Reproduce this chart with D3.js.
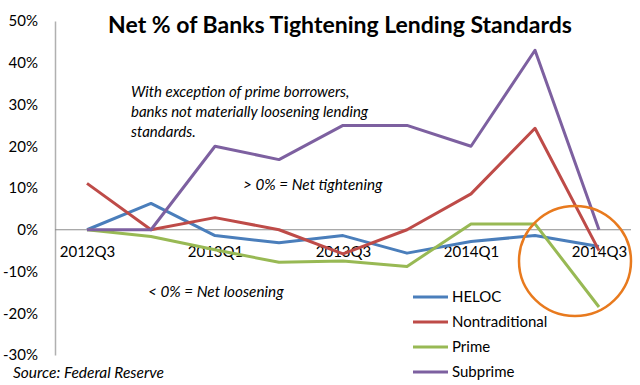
<!DOCTYPE html>
<html>
<head>
<meta charset="utf-8">
<script src="https://cdn.jsdelivr.net/npm/d3@7"></script>
<style>
  body { margin: 0; background: #fff; }
  text { font-family: "Lato", "Liberation Sans", sans-serif; fill: #000; }
</style>
</head>
<body>
<svg width="640" height="385"></svg>
<script>
// Data
const quarters = ["2012Q3", "2012Q4", "2013Q1", "2013Q2", "2013Q3", "2013Q4", "2014Q1", "2014Q2", "2014Q3"];
const heloc = [0, 6.3, -1.4, -3.1, -1.4, -5.6, -2.8, -1.4, -4.0];
const nontraditional = [11.1, 0, 2.9, 0, -5.8, 0, 8.6, 24.3, -5.0];
const prime = [0, -1.6, -4.8, -7.8, -7.5, -8.8, 1.4, 1.4, -18.5];
const subprime = [0, 0, 20, 16.8, 25, 25, 20, 43, 0];
const yTicks = [-30, -20, -10, 0, 10, 20, 30, 40, 50];
const xLabels = ["2012Q3", "2013Q1", "2013Q3", "2014Q1", "2014Q3"];

const series = [
    {name: "HELOC", values: heloc, color: "#4A7EBB"},
    {name: "Nontraditional", values: nontraditional, color: "#BE4B48"},
    {name: "Prime", values: prime, color: "#98B954"},
    {name: "Subprime", values: subprime, color: "#7D60A0"}
];

const svg = d3.select("svg");

const x = d3.scalePoint()
    .domain(quarters)
    .range([55, 631])
    .padding(0.5);

const y = d3.scaleLinear()
    .domain([-30, 50])
    .range([355, 21]);

// Y axis
const yAxis = svg.append("g")
    .attr("transform", "translate(55,0)")
    .call(d3.axisLeft(y).tickValues(yTicks).tickSize(0).tickPadding(17).tickFormat(d => d + "%"));
yAxis.select(".domain").attr("stroke", "#b0b0b0").attr("stroke-width", 1.5);
yAxis.selectAll("text").style("font-size", "15px").style("font-family", "Lato, sans-serif");

// X axis along zero
const xAxis = svg.append("g")
    .attr("transform", `translate(0,${y(0)})`)
    .call(d3.axisBottom(x).tickValues(xLabels).tickSize(0).tickPadding(17));
xAxis.select(".domain").attr("stroke", "#8c8c8c").attr("stroke-width", 1).attr("d", `M55,0H631`);
xAxis.selectAll("text").style("font-size", "15px").style("font-family", "Lato, sans-serif");

// Lines
const line = d3.line()
    .x((d, i) => x(quarters[i]))
    .y(d => y(d));

series.forEach(s => {
    svg.append("path")
        .datum(s.values)
        .attr("fill", "none")
        .attr("stroke", s.color)
        .attr("stroke-width", 3)
        .attr("stroke-linejoin", "round")
        .attr("d", line);
});

// Title
svg.append("text")
    .attr("x", 340)
    .attr("y", 33)
    .attr("text-anchor", "middle")
    .style("font-size", "23px")
    .style("font-weight", "bold")
    .text("Net % of Banks Tightening Lending Standards");

// Annotations
const note = ["With exception of prime borrowers,", "banks not materially loosening lending", "standards."];
note.forEach((t, i) => {
    svg.append("text")
        .attr("x", 131)
        .attr("y", 97 + i * 20)
        .style("font-size", "15px")
        .style("font-style", "italic")
        .text(t);
});

svg.append("text")
    .attr("x", 243)
    .attr("y", 190)
    .style("font-size", "15.3px")
    .style("font-style", "italic")
    .text("> 0% = Net tightening");

svg.append("text")
    .attr("x", 148)
    .attr("y", 297)
    .style("font-size", "15.3px")
    .style("font-style", "italic")
    .text("< 0% = Net loosening");

svg.append("text")
    .attr("x", 13)
    .attr("y", 378)
    .style("font-size", "15.5px")
    .style("font-style", "italic")
    .text("Source: Federal Reserve");

// Highlight circle
svg.append("ellipse")
    .attr("cx", x("2014Q3") - 24)
    .attr("cy", y(-7.5))
    .attr("rx", 56)
    .attr("ry", 55)
    .attr("fill", "none")
    .attr("stroke", "#E87A1E")
    .attr("stroke-width", 2.5);

// Legend
const legend = svg.append("g");
series.forEach((s, i) => {
    const ly = 297 + i * 25;
    legend.append("line")
        .attr("x1", 413).attr("x2", 448)
        .attr("y1", ly).attr("y2", ly)
        .attr("stroke", s.color)
        .attr("stroke-width", 3);
    legend.append("text")
        .attr("x", 452)
        .attr("y", ly)
        .attr("dy", "0.35em")
        .style("font-size", "15px")
        .text(s.name);
});
</script>
</body>
</html>
